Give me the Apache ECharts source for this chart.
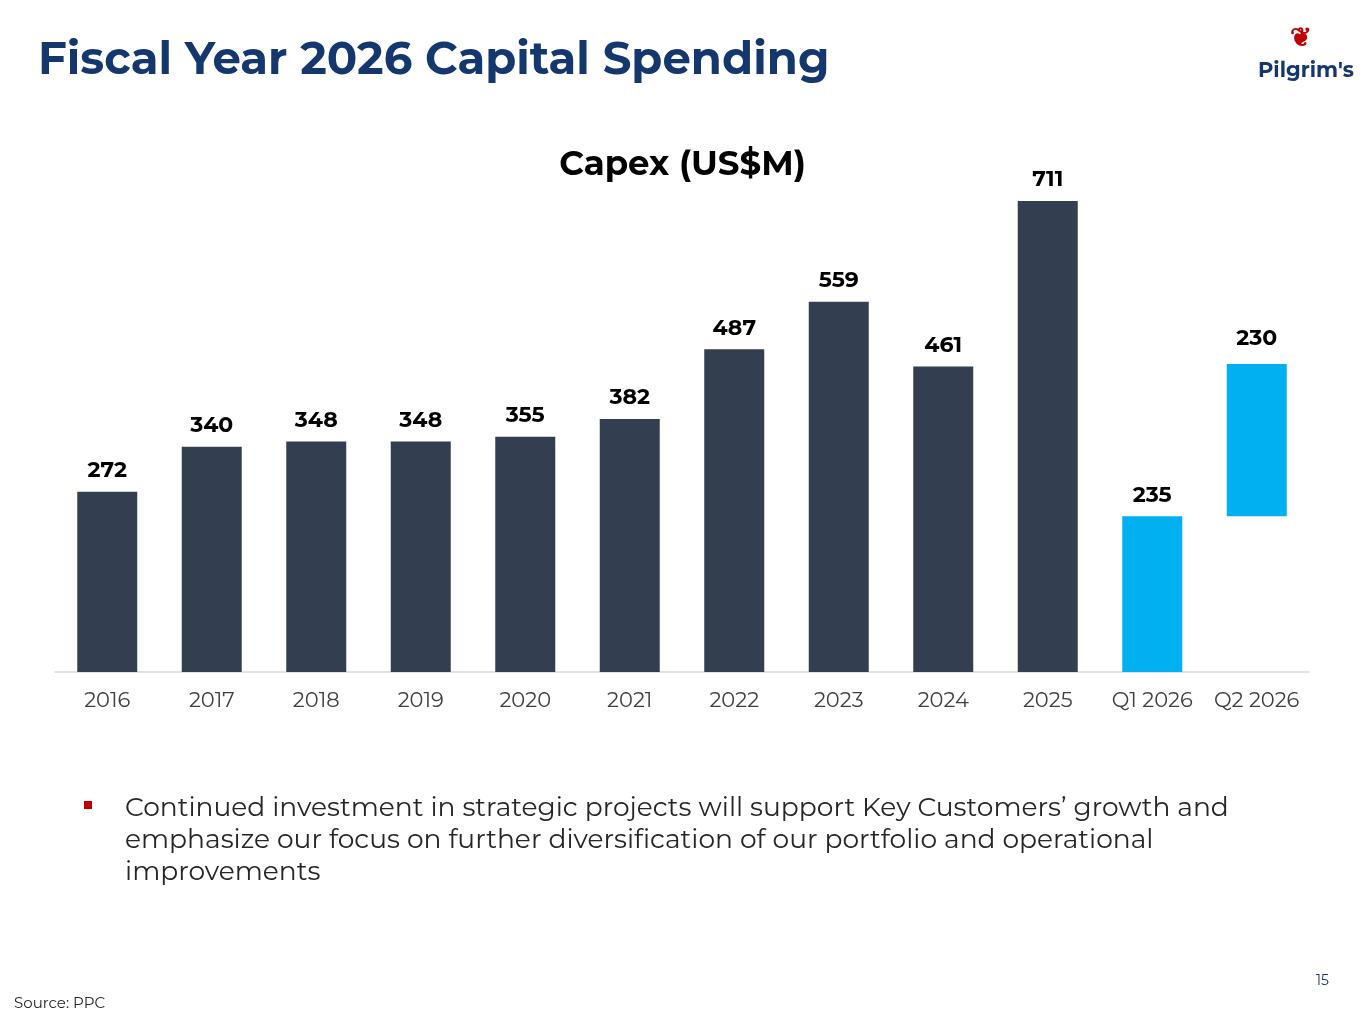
<!DOCTYPE html>
<html><head><meta charset="utf-8">
<script src="https://cdn.jsdelivr.net/npm/echarts@6/dist/echarts.min.js"></script>
<style>html,body{margin:0;padding:0;background:#fff}#c{width:1365px;height:1024px}</style>
</head><body><div id="c"></div>
<script>
const categories = ['2016','2017','2018','2019','2020','2021','2022','2023','2024','2025','Q1 2026','Q2 2026'];
const annualValues = [272,340,348,348,355,382,487,559,461,711,235,null];
const q2Base = [null,null,null,null,null,null,null,null,null,null,null,235];
const q2Values = [null,null,null,null,null,null,null,null,null,null,null,230];
const dark = '#333f50', light = '#00b0f0';
const chart = echarts.init(document.getElementById('c'));
const F = 'Montserrat, "Open Sans", Lato, sans-serif';
chart.setOption({
  animation:false,
  textStyle:{fontFamily:F},
  grid:{left:55,right:56,top:142,bottom:352},
  xAxis:{type:'category',data:categories,axisTick:{show:false},
    axisLine:{lineStyle:{color:'#d9d9d9',width:1.5}},
    axisLabel:{interval:0,color:'#404040',fontSize:21,margin:18,fontFamily:F}},
  yAxis:{type:'value',min:0,max:800,show:false,splitLine:{show:false}},
  series:[
    {type:'bar',stack:'a',data:annualValues.map((v,i)=>v==null?null:{value:v,itemStyle:{color:i===10?light:dark}}),
      barWidth:60,label:{show:true,position:'top',distance:10,color:'#000',fontWeight:'bold',fontSize:22,fontFamily:F}},
    {type:'bar',stack:'a',data:q2Base,itemStyle:{color:'transparent'},barWidth:60},
    {type:'bar',stack:'a',data:q2Values,itemStyle:{color:light},barWidth:60,
      label:{show:true,position:'top',distance:14,color:'#000',fontWeight:'bold',fontSize:22,fontFamily:F}}
  ],
  graphic:[
    {type:'text',left:38,top:38,style:{text:'Fiscal Year 2026 Capital Spending',fill:'#14386e',font:'bold 45px '+F}},
    {type:'text',left:'center',top:148,style:{text:'Capex (US$M)',fill:'#000',font:'bold 34px '+F}},
    {type:'text',left:1258,top:60,style:{text:"Pilgrim's",fill:'#14386e',font:'bold 21px '+F}},
    {type:'text',left:1290,top:26,style:{text:'❦',fill:'#c00000',font:'bold 26px sans-serif'}},
    {type:'rect',left:84,top:801,shape:{width:8,height:8},style:{fill:'#c00000'}},
    {type:'text',left:125,top:792,style:{text:'Continued investment in strategic projects will support Key Customers\u2019 growth and\nemphasize our focus on further diversification of our portfolio and operational\nimprovements',fill:'#262626',font:'26.5px '+F,lineHeight:32}},
    {type:'text',left:1316,top:974,style:{text:'15',fill:'#14386e',font:'14px '+F}},
    {type:'text',left:14,top:996,style:{text:'Source: PPC',fill:'#262626',font:'15px '+F}}
  ]
});
</script></body></html>
